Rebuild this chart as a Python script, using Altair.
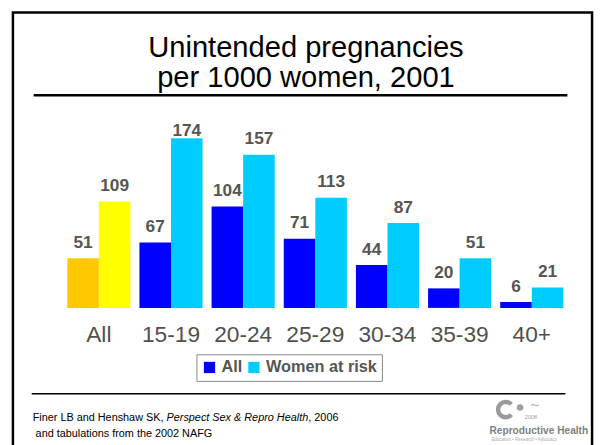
import altair as alt
import pandas as pd

# ---- data ----
ages = ["All", "15-19", "20-24", "25-29", "30-34", "35-39", "40+"]
all_women = [51, 67, 104, 71, 44, 20, 6]
women_at_risk = [109, 174, 157, 113, 87, 51, 21]
series_names = ["All", "Women at risk"]
title_lines = ["Unintended pregnancies", "per 1000 women, 2001"]
source_a = "Finer LB and Henshaw SK,"
source_b = "Perspect Sex & Repro Health"
source_c = ", 2006"
source_2 = "and tabulations from the 2002 NAFG"

rows = []
for a, v1, v2 in zip(ages, all_women, women_at_risk):
    rows.append({"age": a, "series": series_names[0], "value": v1})
    rows.append({"age": a, "series": series_names[1], "value": v2})
df = pd.DataFrame(rows)

FONT = "Liberation Sans"
one = pd.DataFrame({"k": [0]})

xscale = alt.Scale(range=[55.5, 567.5], paddingInner=0, paddingOuter=0)
yscale = alt.Scale(domain=[0, 174], range=[301, 129])
xoff = alt.XOffset("series:N", sort=series_names,
                   scale=alt.Scale(paddingInner=0, paddingOuter=0.143))

key_domain = ["All", "Women at risk", "Total All", "Total Women at risk"]
key_range = ["#0000FF", "#00CCFF", "#FFC800", "#FFFF00"]

bars = alt.Chart(df).transform_calculate(
    key="(datum.age == 'All' ? 'Total ' : '') + datum.series"
).mark_bar().encode(
    x=alt.X("age:N", sort=ages, scale=xscale, axis=None),
    xOffset=xoff,
    y=alt.Y("value:Q", scale=yscale, axis=None),
    color=alt.Color(
        "key:N",
        scale=alt.Scale(domain=key_domain, range=key_range),
        legend=alt.Legend(
            values=series_names, orient="none", legendX=191, legendY=348,
            direction="horizontal", title=None, symbolType="square",
            symbolSize=130, symbolStrokeWidth=0, symbolOpacity=1,
            labelFontSize=16.5, labelFont=FONT, labelFontWeight="bold",
            labelColor="#555555", labelOffset=4, columnPadding=3,
            padding=5, strokeColor="#888888", fillColor="white",
        ),
    ),
)

labels = alt.Chart(df).transform_calculate(
    labely="min(datum.value + 10.6, 176.5)"
).mark_text(fontSize=17.5, fontWeight="bold", color="#555555", font=FONT,
            baseline="alphabetic").encode(
    x=alt.X("age:N", sort=ages, scale=xscale, axis=None),
    xOffset=xoff,
    y=alt.Y("labely:Q", scale=yscale, axis=None),
    text="value:Q",
)

xlabels = alt.Chart(pd.DataFrame({"age": ages})).mark_text(
    fontSize=23, color="#505050", font=FONT, baseline="alphabetic"
).encode(
    x=alt.X("age:N", sort=ages, scale=xscale, axis=None),
    y=alt.value(336),
    text="age:N",
)

border = alt.Chart(one).mark_rect(fillOpacity=0, stroke="black", strokeWidth=2.5).encode(
    x=alt.value(5), x2=alt.value(592), y=alt.value(1.5), y2=alt.value(480)
)
title_rule = alt.Chart(one).mark_rule(color="black", strokeWidth=2.5).encode(
    x=alt.value(26), x2=alt.value(567), y=alt.value(85.5)
)
title = alt.Chart(one).mark_text(fontSize=29.5, font=FONT, color="black",
                                 baseline="alphabetic", lineHeight=30).encode(
    x=alt.value(302), y=alt.value(47), text=alt.value(title_lines)
)
foot_rule = alt.Chart(one).mark_rule(color="black", strokeWidth=1.5).encode(
    x=alt.value(24), x2=alt.value(565), y=alt.value(388)
)
fa = alt.Chart(one).mark_text(fontSize=11, font=FONT, color="black", align="left",
                              baseline="alphabetic").encode(
    x=alt.value(25), y=alt.value(416), text=alt.value(source_a))
fb = alt.Chart(one).mark_text(fontSize=11, font=FONT, color="black", align="left",
                              baseline="alphabetic", fontStyle="italic").encode(
    x=alt.value(160.7), y=alt.value(416), text=alt.value(source_b))
fc = alt.Chart(one).mark_text(fontSize=11, font=FONT, color="black", align="left",
                              baseline="alphabetic").encode(
    x=alt.value(304.4), y=alt.value(416), text=alt.value(source_c))
f2 = alt.Chart(one).mark_text(fontSize=11, font=FONT, color="black", align="left",
                              baseline="alphabetic").encode(
    x=alt.value(28), y=alt.value(432), text=alt.value(source_2))

ring = alt.Chart(one).mark_arc(radius=10, radius2=5.5, theta=2.3, theta2=7.1,
                               color="#9a9a9a").encode(x=alt.value(504.5), y=alt.value(404))
dot = alt.Chart(one).mark_circle(size=45, color="#a0a0a0", opacity=1).encode(
    x=alt.value(519), y=alt.value(402))
tilde = alt.Chart(one).mark_text(fontSize=16, color="#b0b0b0", font=FONT).encode(
    x=alt.value(534), y=alt.value(401), text=alt.value("~"))
year = alt.Chart(one).mark_text(fontSize=5.5, color="#999999", font=FONT).encode(
    x=alt.value(530), y=alt.value(412), text=alt.value("2008"))
logo_txt = alt.Chart(one).mark_text(fontSize=10.3, fontWeight="bold", color="#808080",
                                    font=FONT, align="left",
                                    baseline="alphabetic").encode(
    x=alt.value(488), y=alt.value(429), text=alt.value("Reproductive Health"))
tag = alt.Chart(one).mark_text(fontSize=4.5, color="#aaaaaa", font=FONT, align="left",
                               baseline="alphabetic").encode(
    x=alt.value(490), y=alt.value(435.5), text=alt.value("Education \u2022 Research \u2022 Advocacy"))

chart = alt.layer(
    border, title_rule, title, bars, labels, xlabels, foot_rule, fa, fb, fc, f2,
    ring, dot, tilde, year, logo_txt, tag
).properties(
    width=596, height=437, padding=0,
    autosize=alt.AutoSizeParams(type="none"),
).configure_view(stroke=None)

chart.save("out.html", embed_options={"renderer": "svg", "actions": False})
